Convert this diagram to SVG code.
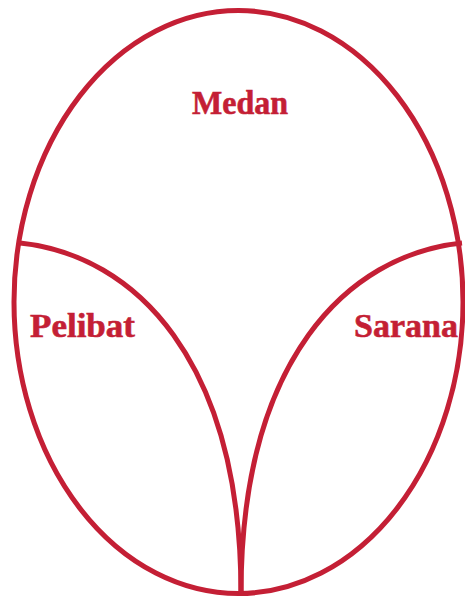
<svg xmlns="http://www.w3.org/2000/svg" width="465" height="596" viewBox="0 0 465 596">
<style>
.ln{fill:none;stroke:#C41F35;stroke-width:5}
.lb{font-family:"Liberation Serif","Times New Roman",serif;font-weight:bold;font-size:34px;fill:#C41F35;stroke:#C41F35;stroke-width:0.6}
</style>
<rect width="465" height="596" fill="#fff"/>
<g id="connectors">
<ellipse class="ln" cx="238.5" cy="302" rx="224.5" ry="291.5"/>
<path class="ln" d="M20,243 C135,255 241,360 241,594"/>
<path class="ln" d="M462,243 C347,255 241,360 241,594"/>
</g>
<g id="medan"><text class="lb" x="192" y="114" textLength="96" lengthAdjust="spacingAndGlyphs">Medan</text></g>
<g id="pelibat"><text class="lb" x="30" y="337" textLength="105" lengthAdjust="spacingAndGlyphs">Pelibat</text></g>
<g id="sarana"><text class="lb" x="354" y="337" textLength="104" lengthAdjust="spacingAndGlyphs">Sarana</text></g>
</svg>
